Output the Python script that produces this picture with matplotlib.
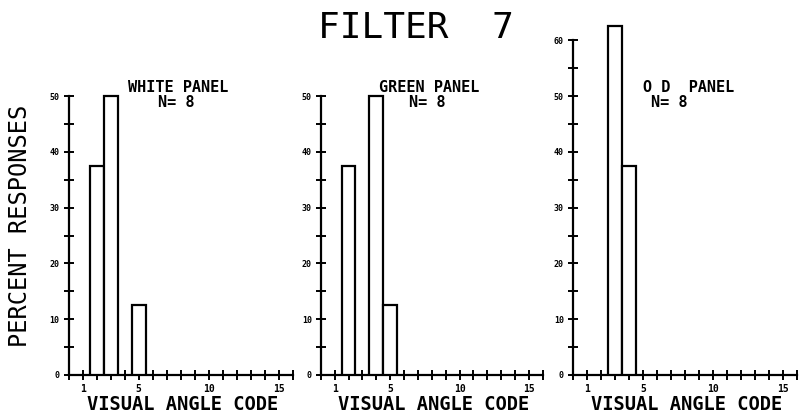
import matplotlib.pyplot as plt
import numpy as np

# visual angle codes and percent responses
white_codes = [2, 3, 5]
white_pct = [37.5, 50, 12.5]
green_codes = [2, 4, 5]
green_pct = [37.5, 50, 12.5]
od_codes = [3, 4]
od_pct = [62.5, 37.5]

panel_names = ["WHITE PANEL", "GREEN PANEL", "O D  PANEL"]
panel_n = ["N= 8", "N= 8", "N= 8"]
y_tops = [50, 50, 60]
x_ticklabels = [1, 5, 10, 15]

MONO = "DejaVu Sans Mono"

fig = plt.figure(figsize=(8, 4.15), dpi=100)

lefts = [0.0859, 0.401, 0.716]
widths = [0.28, 0.2775, 0.28]
bottom, height = 0.0964, 0.887

data = [(white_codes, white_pct), (green_codes, green_pct), (od_codes, od_pct)]
name_x = [7.8, 7.8, 8.3]
n_x = [7.7, 7.7, 6.9]

for i in range(3):
    ax = fig.add_axes([lefts[i], bottom, widths[i], height])
    codes, pct = data[i]
    ax.bar(codes, pct, width=1.0, facecolor="white", edgecolor="black",
           linewidth=1.6, zorder=3)

    ax.set_xlim(0, 16)
    ax.set_ylim(0, 66)
    for s in ["top", "right"]:
        ax.spines[s].set_visible(False)
    ax.spines["left"].set_bounds(0, y_tops[i])
    ax.spines["bottom"].set_bounds(0, 16)
    ax.spines["left"].set_linewidth(1.6)
    ax.spines["bottom"].set_linewidth(1.6)

    ax.set_xticks(x_ticklabels)
    ax.set_xticks(np.arange(0, 17), minor=True)
    ax.set_yticks(np.arange(0, y_tops[i] + 1, 10))
    ax.set_yticks(np.arange(5, y_tops[i], 10), minor=True)
    ax.tick_params(which="both", direction="inout", length=7, width=1.4,
                   color="black")
    ax.tick_params(axis="x", which="major", labelsize=7, pad=3)
    ax.tick_params(axis="y", which="major", labelsize=6, pad=3)
    for lab in ax.get_xticklabels() + ax.get_yticklabels():
        lab.set_fontfamily(MONO)
        lab.set_fontweight("bold")

    ax.text(name_x[i], 51.6, panel_names[i], ha="center", va="center",
            fontsize=11, fontweight="bold", family=MONO)
    ax.text(n_x[i], 48.9, panel_n[i], ha="center", va="center",
            fontsize=11, fontweight="bold", family=MONO)
    ax.annotate("VISUAL ANGLE CODE", xy=(8.15, 0), xytext=(0, -21),
                textcoords="offset points", ha="center", va="center",
                fontsize=13.5, fontweight="bold", family=MONO,
                annotation_clip=False)
    ax.patch.set_alpha(0)

fig.text(416 / 800, 1 - 27.5 / 415, "FILTER  7", ha="center", va="center",
         fontsize=26, family=MONO)
fig.text(20.5 / 800, 1 - 226 / 415, "PERCENT RESPONSES", rotation=90,
         ha="center", va="center", fontsize=17, family=MONO)

fig.savefig("out.png", dpi=100)
